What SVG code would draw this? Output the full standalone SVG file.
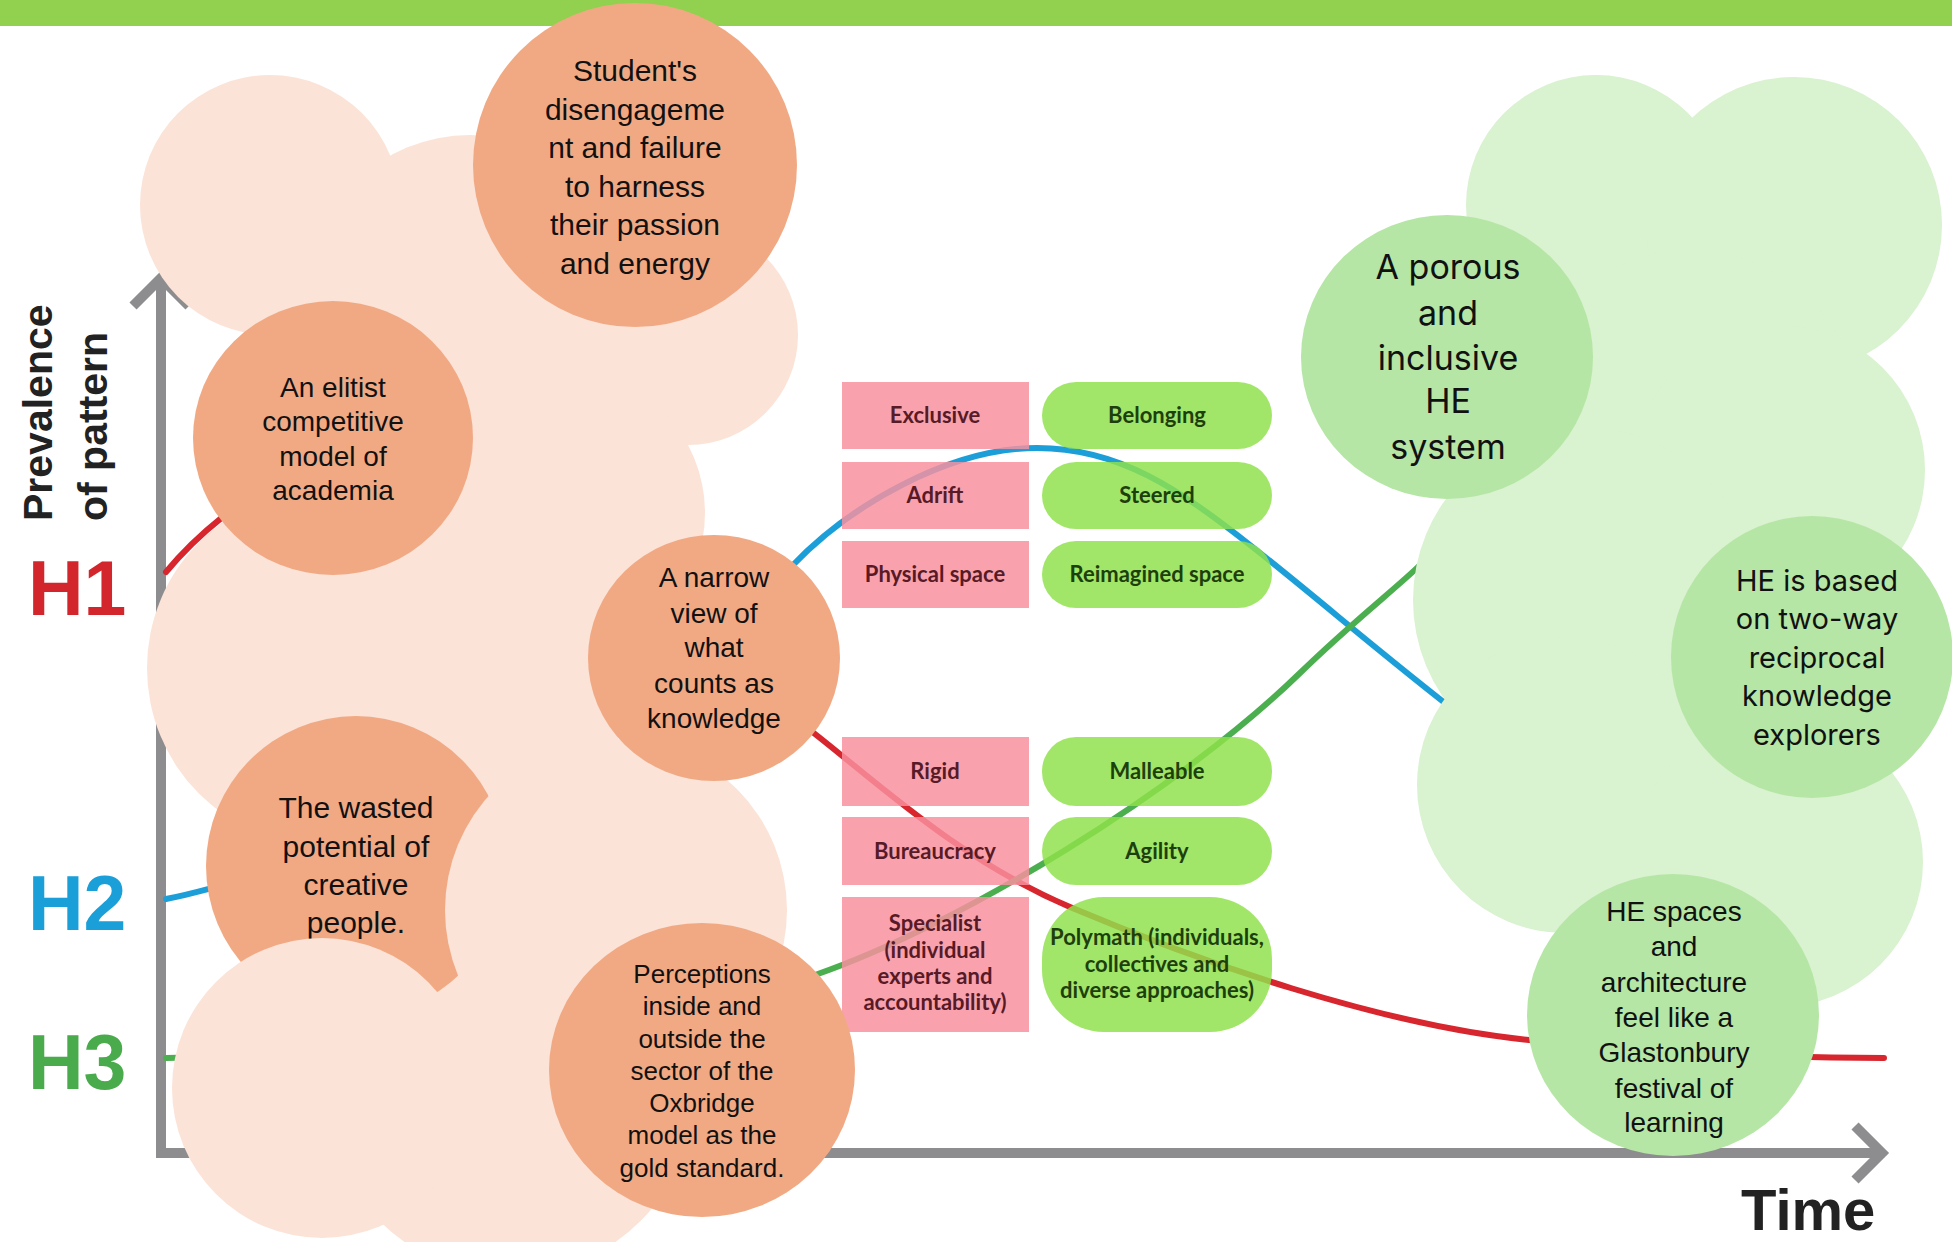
<svg xmlns="http://www.w3.org/2000/svg" width="1952" height="1242" viewBox="0 0 1952 1242">
<style>
.peach{fill:#fbe3d7}
.orange{fill:#f1a984}
.lg{fill:#d9f2cf}
.mg{fill:#b5e6a5}
.pink{fill:#f8909f;fill-opacity:0.84}
.pill{fill:#8fe14b;fill-opacity:0.84}
.axis{fill:none;stroke:#8d8d90;stroke-width:10;stroke-linejoin:miter}
.curve{fill:none;stroke-width:6;stroke-linecap:round}
.ot{font-family:"Liberation Sans",Arial,sans-serif;text-anchor:middle;fill:#111}
.gt{font-family:Inter,"Liberation Sans",sans-serif;text-anchor:middle;fill:#111}
.bp{font-family:Lato,"Liberation Sans",sans-serif;font-weight:bold;font-size:22px;text-anchor:middle;fill:#571a26}
.bg{font-family:Lato,"Liberation Sans",sans-serif;font-weight:bold;font-size:22px;text-anchor:middle;fill:#1d3f0c}
.lab{font-family:"Liberation Sans",Arial,sans-serif;font-weight:bold}
</style>
<rect x="0" y="0" width="1952" height="1242" fill="#ffffff"/>
<rect x="0" y="0" width="1952" height="26" fill="#92d050"/>

<g id="axes">
<polyline class="axis" points="161,280 161,1153 1880,1153"/>
<polyline class="axis" points="133,306 161,278 189,306"/>
<polyline class="axis" points="1855,1126 1882,1153 1855,1180"/>
<text class="lab" x="28" y="615" font-size="77" fill="#d3262c">H1</text>
<text class="lab" x="28" y="930" font-size="77" fill="#1a9fd9">H2</text>
<text class="lab" x="28" y="1089" font-size="77" fill="#4aab4d">H3</text>
<text class="lab" font-size="41" fill="#222" transform="translate(52,521) rotate(-90)">Prevalence</text>
<text class="lab" font-size="41" fill="#222" transform="translate(107,521) rotate(-90)">of pattern</text>
<text class="lab" x="1741" y="1230" font-size="58" fill="#222">Time</text>
</g>

<g id="connectors">
<path class="curve" stroke="#d7262d" d="M166,572 C228,497 350,420 450,450 C560,480 700,640 815,734 C880,785 960,860 1070,907 C1200,962 1380,1025 1529,1040 C1650,1052 1760,1058 1884,1058"/>
<path class="curve" stroke="#1c9fd9" d="M166,899 C290,874 600,760 792,566 C850,505 950,448 1037,448 C1120,448 1180,490 1250,545 C1320,600 1400,670 1480,730 C1560,790 1650,850 1760,880"/>
<path class="curve" stroke="#4caf4f" d="M166,1058 C400,1055 650,1030 815,975 C960,925 1180,790 1300,673 C1350,624 1400,585 1420,565 C1440,545 1460,500 1480,440"/>
</g>

<g id="box-exclusive"><rect class="pink" x="842" y="382" width="187" height="67"/><text class="bp" x="935" y="423">Exclusive</text></g>
<g id="box-adrift"><rect class="pink" x="842" y="462" width="187" height="67"/><text class="bp" x="935" y="503">Adrift</text></g>
<g id="box-physical"><rect class="pink" x="842" y="541" width="187" height="67"/><text class="bp" x="935" y="582">Physical space</text></g>
<g id="box-rigid"><rect class="pink" x="842" y="737" width="187" height="69"/><text class="bp" x="935" y="779">Rigid</text></g>
<g id="box-bureaucracy"><rect class="pink" x="842" y="817" width="187" height="68"/><text class="bp" x="935" y="859">Bureaucracy</text></g>
<g id="box-specialist"><rect class="pink" x="842" y="897" width="187" height="135"/><text class="bp" x="935" y="931">Specialist<tspan x="935" y="958">(individual</tspan><tspan x="935" y="984">experts and</tspan><tspan x="935" y="1010">accountability)</tspan></text></g>

<g id="pill-belonging"><rect class="pill" x="1042" y="382" width="230" height="67" rx="34"/><text class="bg" x="1157" y="423">Belonging</text></g>
<g id="pill-steered"><rect class="pill" x="1042" y="462" width="230" height="67" rx="34"/><text class="bg" x="1157" y="503">Steered</text></g>
<g id="pill-reimagined"><rect class="pill" x="1042" y="541" width="230" height="67" rx="34"/><text class="bg" x="1157" y="582">Reimagined space</text></g>
<g id="pill-malleable"><rect class="pill" x="1042" y="737" width="230" height="69" rx="34"/><text class="bg" x="1157" y="779">Malleable</text></g>
<g id="pill-agility"><rect class="pill" x="1042" y="817" width="230" height="68" rx="34"/><text class="bg" x="1157" y="859">Agility</text></g>
<g id="pill-polymath"><rect class="pill" x="1042" y="897" width="230" height="135" rx="62"/><text class="bg" x="1157" y="945">Polymath (individuals,<tspan x="1157" y="972">collectives and</tspan><tspan x="1157" y="998">diverse approaches)</tspan></text></g>

<g id="cloud-left">
<circle class="peach" cx="270" cy="205" r="130"/>
<circle class="peach" cx="470" cy="300" r="165"/>
<circle class="peach" cx="688" cy="335" r="110"/>
<circle class="peach" cx="560" cy="513" r="145"/>
<circle class="peach" cx="325" cy="668" r="178"/>
<circle class="peach" cx="520" cy="690" r="110"/>
<circle class="peach" cx="510" cy="1090" r="185"/>
</g>
<g id="node-wasted">
<circle class="orange" cx="356" cy="866" r="150"/>
<text class="ot" font-size="30" x="356" y="818">The wasted<tspan x="356" y="857">potential of</tspan><tspan x="356" y="895">creative</tspan><tspan x="356" y="933">people.</tspan></text>
</g>
<g id="cloud-left-lower">
<circle class="peach" cx="616" cy="910" r="171"/>
<circle class="peach" cx="322" cy="1088" r="150"/>
</g>
<g id="node-elitist">
<ellipse class="orange" cx="333" cy="438" rx="140" ry="137"/>
<text class="ot" font-size="28" x="333" y="397">An elitist<tspan x="333" y="431">competitive</tspan><tspan x="333" y="466">model of</tspan><tspan x="333" y="500">academia</tspan></text>
</g>
<g id="node-student">
<circle class="orange" cx="635" cy="165" r="162"/>
<text class="ot" font-size="30" x="635" y="81">Student's<tspan x="635" y="120">disengageme</tspan><tspan x="635" y="158">nt and failure</tspan><tspan x="635" y="197">to harness</tspan><tspan x="635" y="235">their passion</tspan><tspan x="635" y="274">and energy</tspan></text>
</g>
<g id="node-narrow">
<ellipse class="orange" cx="714" cy="658" rx="126" ry="123"/>
<text class="ot" font-size="28" x="714" y="587">A narrow<tspan x="714" y="623">view of</tspan><tspan x="714" y="657">what</tspan><tspan x="714" y="693">counts as</tspan><tspan x="714" y="728">knowledge</tspan></text>
</g>
<g id="node-perceptions">
<ellipse class="orange" cx="702" cy="1070" rx="153" ry="147"/>
<text class="ot" font-size="26" x="702" y="983">Perceptions<tspan x="702" y="1015">inside and</tspan><tspan x="702" y="1048">outside the</tspan><tspan x="702" y="1080">sector of the</tspan><tspan x="702" y="1112">Oxbridge</tspan><tspan x="702" y="1144">model as the</tspan><tspan x="702" y="1177">gold standard.</tspan></text>
</g>

<g id="cloud-right">
<circle class="lg" cx="1596" cy="205" r="130"/>
<circle class="lg" cx="1794" cy="225" r="148"/>
<circle class="lg" cx="1690" cy="420" r="170"/>
<circle class="lg" cx="1780" cy="470" r="145"/>
<circle class="lg" cx="1585" cy="600" r="172"/>
<circle class="lg" cx="1565" cy="785" r="148"/>
<circle class="lg" cx="1778" cy="862" r="145"/>
</g>
<g id="node-porous">
<ellipse class="mg" cx="1447" cy="357" rx="146" ry="142"/>
<text class="gt" font-size="34" x="1448" y="279">A porous<tspan x="1448" y="325">and</tspan><tspan x="1448" y="370">inclusive</tspan><tspan x="1448" y="413">HE</tspan><tspan x="1448" y="459">system</tspan></text>
</g>
<g id="node-reciprocal">
<circle class="mg" cx="1812" cy="657" r="141"/>
<text class="gt" font-size="29" x="1817" y="591">HE is based<tspan x="1817" y="629">on two-way</tspan><tspan x="1817" y="668">reciprocal</tspan><tspan x="1817" y="706">knowledge</tspan><tspan x="1817" y="745">explorers</tspan></text>
</g>
<g id="node-spaces">
<ellipse class="mg" cx="1673" cy="1015" rx="146" ry="141"/>
<text class="ot" font-size="28" x="1674" y="921">HE spaces<tspan x="1674" y="956">and</tspan><tspan x="1674" y="992">architecture</tspan><tspan x="1674" y="1027">feel like a</tspan><tspan x="1674" y="1062">Glastonbury</tspan><tspan x="1674" y="1098">festival of</tspan><tspan x="1674" y="1132">learning</tspan></text>
</g>
</svg>
